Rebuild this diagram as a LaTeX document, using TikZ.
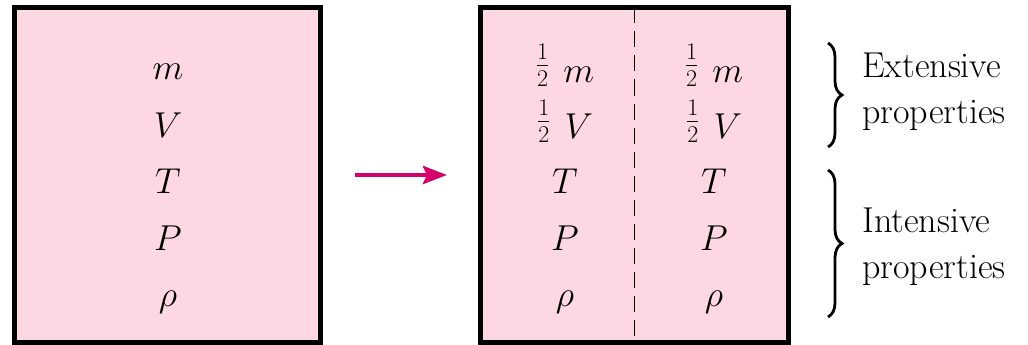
\RequirePackage{fix-cm}
\documentclass[tikz,border=0pt]{standalone}
\usetikzlibrary{arrows.meta,decorations.pathreplacing}
\definecolor{boxpink}{RGB}{253,216,226}
\definecolor{arrowmag}{RGB}{214,0,108}
\newcommand\digit[1]{\hbox{\fontsize{24}{24}\selectfont\upshape #1}}
\newcommand\halfof{\raisebox{8pt}{$\frac{\digit{1}}{\digit{2}}$}\hspace{14pt}}
\tikzset{
  panel/.style={draw=black, line width=5pt, fill=boxpink, inner sep=0pt},
  qty/.style={font=\fontsize{36}{36}\selectfont, inner sep=0pt, anchor=base},
  proptext/.style={font=\fontsize{36}{46}\selectfont, align=left, inner sep=0pt, anchor=north west},
  bracestyle/.style={decorate, decoration={brace, amplitude=14pt}, line width=2.8pt},
  divider/.style={line width=1.5pt, dash pattern=on 16pt off 8pt},
  bigarrow/.style={draw=arrowmag, line width=4.5pt, -{Stealth[length=24pt,width=18pt,inset=4pt]}}
}
\begin{document}
\begin{tikzpicture}[x=1pt,y=-1pt]
\useasboundingbox (0,0) rectangle (1028,345);
% boxes
\node[panel, minimum width=306.5pt, minimum height=335pt] (lbox) at (167.25,175) {};
\node[panel, minimum width=308pt, minimum height=335pt] (rbox) at (634.5,175) {};
\draw[divider] ([yshift=-2.5pt]rbox.north) -- ([yshift=2.5pt]rbox.south);
% left quantities
\node[qty] (lm) at (168,80) {$m$};
\node[qty] (lV) at (168,137) {$V$};
\node[qty] (lT) at (168,193) {$T$};
\node[qty] (lP) at (168,250) {$P$};
\node[qty] (lr) at (168,306) {$\rho$};
% right quantities, left half
\node[qty] (am) at (565,82) {\halfof$m$};
\node[qty] (aV) at (565,138) {\halfof$V$};
\node[qty] (aT) at (565,193) {$T$};
\node[qty] (aP) at (565,250) {$P$};
\node[qty] (ar) at (565,306) {$\rho$};
% right quantities, right half
\node[qty] (bm) at (714,82) {\halfof$m$};
\node[qty] (bV) at (714,138) {\halfof$V$};
\node[qty] (bT) at (714,193) {$T$};
\node[qty] (bP) at (714,250) {$P$};
\node[qty] (br) at (714,306) {$\rho$};
% arrow
\coordinate (as) at (355,175);
\coordinate (ae) at (447,175);
\draw[bigarrow] (as) -- (ae);
% braces
\coordinate (e1) at (828,43);
\coordinate (e2) at (828,147);
\coordinate (i1) at (828,170);
\coordinate (i2) at (828,317);
\draw[bracestyle] (e1) -- (e2);
\draw[bracestyle] (i1) -- (i2);
\node[proptext] (ext) at (862,52.4) {Extensive\\properties};
\node[proptext] (int) at (862,207.4) {Intensive\\properties};
\end{tikzpicture}
\end{document}
